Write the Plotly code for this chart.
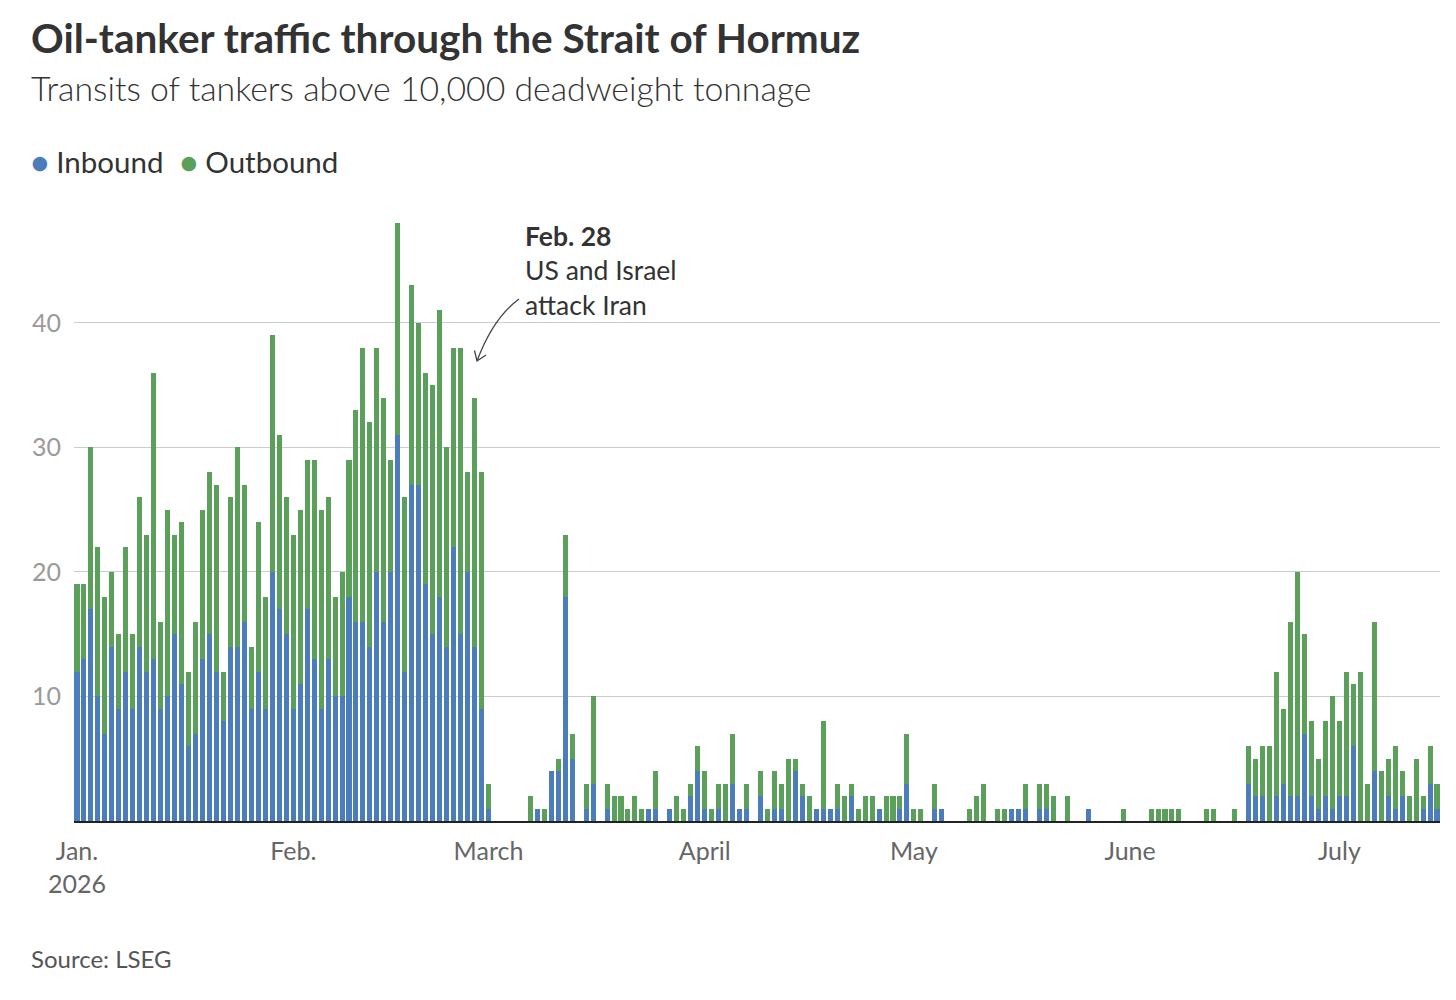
import pandas as pd
import plotly.graph_objects as go

# ---------------- data ----------------
dates = pd.date_range("2026-01-01", periods=196, freq="D")

inbound = [
    12, 13, 17, 10, 7, 14, 9, 12, 9, 14,
    12, 13, 9, 10, 15, 11, 6, 7, 13, 15,
    12, 8, 14, 14, 16, 9, 12, 9, 20, 17,
    15, 9, 11, 17, 13, 9, 13, 10, 10, 18,
    16, 16, 14, 20, 16, 20, 31, 12, 27, 27,
    19, 15, 18, 14, 22, 15, 20, 14, 9, 1,
    0, 0, 0, 0, 0, 0, 1, 0, 4, 4,
    18, 5, 0, 1, 3, 0, 1, 0, 0, 0,
    0, 0, 1, 1, 0, 1, 0, 0, 2, 4,
    1, 0, 1, 0, 3, 1, 1, 0, 2, 0,
    1, 1, 0, 4, 2, 0, 1, 1, 1, 1,
    0, 2, 0, 0, 0, 1, 0, 0, 1, 3,
    0, 0, 0, 1, 1, 0, 0, 0, 0, 0,
    0, 0, 0, 0, 1, 1, 1, 0, 1, 1,
    0, 0, 0, 0, 0, 1, 0, 0, 0, 0,
    0, 0, 0, 0, 0, 0, 0, 0, 0, 0,
    0, 0, 0, 0, 0, 0, 0, 0, 3, 2,
    2, 0, 2, 3, 2, 2, 7, 2, 1, 2,
    1, 2, 2, 6, 0, 0, 4, 0, 2, 1,
    2, 0, 0, 1, 3, 1,
]

outbound = [
    7, 6, 13, 12, 11, 6, 6, 10, 6, 12,
    11, 23, 7, 15, 8, 13, 6, 9, 12, 13,
    15, 4, 12, 16, 11, 5, 12, 9, 19, 14,
    11, 14, 14, 12, 16, 16, 13, 8, 10, 11,
    17, 22, 18, 18, 18, 9, 17, 14, 16, 13,
    17, 20, 23, 16, 16, 23, 8, 20, 19, 2,
    0, 0, 0, 0, 0, 2, 0, 1, 0, 1,
    5, 2, 0, 2, 7, 0, 2, 2, 2, 1,
    2, 1, 0, 3, 0, 0, 2, 1, 1, 2,
    3, 1, 2, 3, 4, 0, 2, 0, 2, 1,
    3, 2, 5, 1, 1, 2, 0, 7, 0, 2,
    2, 1, 1, 2, 2, 0, 2, 2, 1, 4,
    1, 1, 0, 2, 0, 0, 0, 0, 1, 2,
    3, 0, 1, 1, 0, 0, 2, 0, 2, 2,
    2, 0, 2, 0, 0, 0, 0, 0, 0, 0,
    1, 0, 0, 0, 1, 1, 1, 1, 1, 0,
    0, 0, 1, 1, 0, 0, 1, 0, 3, 3,
    4, 6, 10, 6, 14, 18, 8, 6, 4, 6,
    9, 6, 10, 5, 12, 3, 12, 4, 3, 5,
    2, 2, 5, 1, 3, 2,
]

tick_dates = ["2026-01-01", "2026-02-01", "2026-03-01", "2026-04-01",
              "2026-05-01", "2026-06-01", "2026-07-01"]
tick_labels = ["Jan.<br>2026", "Feb.", "March", "April", "May", "June", "July"]
y_ticks = [10, 20, 30, 40]

# ---------------- style ----------------
BLUE = "#4a7dba"
GREEN = "#5aa05a"
FONT = "Lato"
W, H = 1456, 1000
L, R, T, B = 74, 16, 217, 179
PW = W - L - R
PH = H - T - B


def px(x):
    return (x - L) / PW


def py(y):
    return (H - B - y) / PH


fig = go.Figure()
fig.add_trace(go.Bar(x=dates, y=inbound, name="Inbound",
                     marker=dict(color=BLUE, line=dict(width=0))))
fig.add_trace(go.Bar(x=dates, y=outbound, name="Outbound",
                     marker=dict(color=GREEN, line=dict(width=0))))

fig.update_layout(
    width=W, height=H,
    margin=dict(l=L, r=R, t=T, b=B),
    barmode="stack", bargap=0.28,
    plot_bgcolor="white", paper_bgcolor="white",
    showlegend=False,
    font=dict(family=FONT, color="#333333"),
)

fig.update_xaxes(
    type="date",
    range=["2025-12-31 13:40", "2026-07-15 10:20"],
    tickvals=tick_dates, ticktext=tick_labels,
    tickfont=dict(family=FONT, size=25, color="#666666"),
    showgrid=False, zeroline=False,
    showline=True, linecolor="#222222", linewidth=2,
    ticks="", ticklabelstandoff=7,
)

fig.update_yaxes(
    range=[0, 48.5],
    tickvals=y_ticks,
    tickfont=dict(family=FONT, size=25, color="#9a9a9a"),
    showgrid=True, gridcolor="#cccccc", gridwidth=1,
    zeroline=False, showline=False, ticks="",
    ticklabelstandoff=12,
)

annotations = [
    dict(text="<b>Oil-tanker traffic through the Strait of Hormuz</b>",
         x=px(29), y=py(37), font=dict(size=40.5, color="#333333")),
    dict(text="Transits of tankers above 10,000 deadweight tonnage",
         x=px(29), y=py(88), font=dict(size=33.8, color="#333333", weight=300)),
    dict(text=f'<span style="color:{BLUE}">●</span> Inbound',
         x=px(29), y=py(161), font=dict(size=29.5, color="#333333")),
    dict(text=f'<span style="color:{GREEN}">●</span> Outbound',
         x=px(178), y=py(161), font=dict(size=29.5, color="#333333")),
    dict(text="<b>Feb. 28</b><br>US and Israel<br>attack Iran",
         x=px(523), y=py(270), font=dict(size=26.5, color="#333333"),
         align="left"),
    dict(text="Source: LSEG",
         x=px(29), y=py(958), font=dict(size=24, color="#555555")),
]
for a in annotations:
    a.update(xref="paper", yref="paper", xanchor="left", yanchor="middle",
             showarrow=False)
    a["font"]["family"] = FONT
fig.update_layout(annotations=annotations)

# curved arrow pointing at Feb. 28
arrow_path = (
    f"M {px(519)} {py(299)} Q {px(493)} {py(318)} {px(477)} {py(361)} "
    f"M {px(474.5)} {py(350.5)} L {px(477)} {py(361)} L {px(486)} {py(355)}"
)
fig.add_shape(type="path", path=arrow_path, xref="paper", yref="paper",
              line=dict(color="#444444", width=1.3))

fig.write_html("out.html")
